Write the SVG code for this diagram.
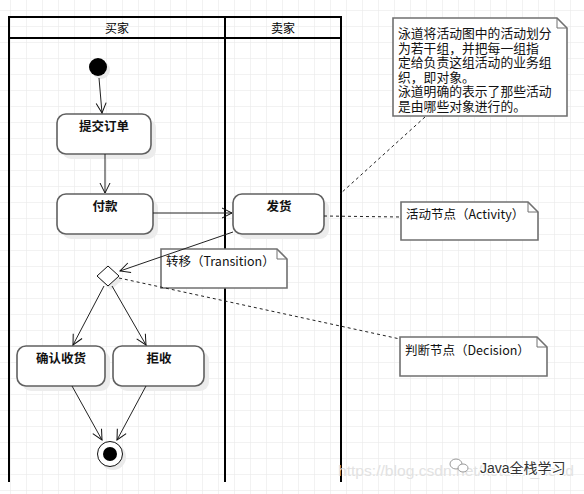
<svg xmlns="http://www.w3.org/2000/svg" width="584" height="494" viewBox="0 0 584 494">
<defs>
<pattern id="grid" x="10" y="10" width="16" height="16" patternUnits="userSpaceOnUse">
<path d="M0 0H16M0 0V16" fill="none" stroke="#e6e6e6" stroke-width="1"/>
</pattern>
<marker id="arr" markerWidth="12" markerHeight="12" refX="11" refY="6" orient="auto" markerUnits="userSpaceOnUse">
<path d="M1 1L11 6L1 11" fill="none" stroke="#111" stroke-width="1"/>
</marker>
</defs>
<style>
.lane{fill:none;stroke:#000;stroke-width:2}
.hdr{font-family:"Noto Sans CJK SC",sans-serif;font-size:12px;fill:#000;text-anchor:middle}
.box{fill:#fff;stroke:#606060;stroke-width:1.6}
.sh{fill:#ececec}
.lbl{font-family:"Noto Sans CJK SC",sans-serif;font-size:12.5px;font-weight:bold;fill:#111;text-anchor:middle}
.note{fill:#fff;stroke:#707070;stroke-width:1.6}
.ntx{font-family:"Noto Sans CJK SC","Liberation Sans",sans-serif;font-size:12.5px;fill:#111}
.big{font-size:12.8px}
.edge{fill:none;stroke:#222;stroke-width:1}
.dash{fill:none;stroke:#222;stroke-width:1;stroke-dasharray:3,3}
</style>
<rect width="584" height="494" fill="#fff"/>
<rect width="584" height="494" fill="url(#grid)"/>

<g id="swimlanes">
<path class="lane" d="M9 482V17H341V482M9 38H341M225 17V482"/>
<text class="hdr" x="117" y="33">买家</text>
<text class="hdr" x="283" y="33">卖家</text>
</g>

<g id="start">
<circle cx="101" cy="70" r="9" fill="#eaeaea"/>
<circle cx="98" cy="67" r="9" fill="#000"/>
</g>

<g id="submit">
<rect class="sh" x="62" y="119" width="94" height="40" rx="9"/>
<rect class="box" x="57" y="114" width="94" height="40" rx="9"/>
<text class="lbl" x="104" y="131">提交订单</text>
</g>

<g id="pay">
<rect class="sh" x="62" y="199" width="96" height="40" rx="9"/>
<rect class="box" x="57" y="194" width="96" height="40" rx="9"/>
<text class="lbl" x="105" y="211">付款</text>
</g>

<g id="ship">
<rect class="sh" x="238" y="199" width="91" height="40" rx="9"/>
<rect class="box" x="233" y="194" width="91" height="40" rx="9"/>
<text class="lbl" x="279" y="211">发货</text>
</g>

<g id="decision">
<path d="M100 280L111 270L122 280L111 290Z" fill="#eaeaea"/>
<path d="M97 276L108 266L119 276L108 286Z" fill="#fff" stroke="#111" stroke-width="1"/>
</g>

<g id="confirm">
<rect class="sh" x="22" y="351" width="88" height="40" rx="9"/>
<rect class="box" x="17" y="346" width="88" height="40" rx="9"/>
<text class="lbl" x="61" y="363">确认收货</text>
</g>

<g id="reject">
<rect class="sh" x="118" y="351" width="91" height="40" rx="9"/>
<rect class="box" x="113" y="346" width="91" height="40" rx="9"/>
<text class="lbl" x="159" y="363">拒收</text>
</g>

<g id="end">
<circle cx="113" cy="457" r="13" fill="#eaeaea"/>
<circle cx="110" cy="454" r="12.5" fill="#fff" stroke="#111" stroke-width="1"/>
<circle cx="110" cy="454" r="7" fill="#000"/>
</g>

<g id="note-swimlane">
<path class="note" d="M393 18H557L567 28V116H393Z"/>
<path d="M557 18V28H567" fill="none" stroke="#707070" stroke-width="1"/>
<text class="ntx big"><tspan x="398" y="38">泳道将活动图中的活动划分</tspan><tspan x="398" y="52.6">为若干组，并把每一组指</tspan><tspan x="398" y="67.2">定给负责这组活动的业务组</tspan><tspan x="398" y="81.8">织，即对象。</tspan><tspan x="398" y="96.4">泳道明确的表示了那些活动</tspan><tspan x="398" y="111">是由哪些对象进行的。</tspan></text>
</g>

<g id="note-activity">
<path class="note" d="M401 202H528L538 212V240H401Z"/>
<path d="M528 202V212H538" fill="none" stroke="#707070" stroke-width="1"/>
<text class="ntx" x="406" y="219">活动节点（Activity）</text>
</g>

<g id="note-transition">
<path class="note" d="M161 249H277L287 259V288H161Z"/>
<path d="M277 249V259H287" fill="none" stroke="#707070" stroke-width="1"/>
<text class="ntx" x="166" y="266">转移（Transition）</text>
</g>

<g id="note-decision">
<path class="note" d="M400 337H537L547 347V376H400Z"/>
<path d="M537 337V347H547" fill="none" stroke="#707070" stroke-width="1"/>
<text class="ntx" x="405" y="355">判断节点（Decision）</text>
</g>

<g id="connectors">
<path class="edge" d="M99 78L102 113" marker-end="url(#arr)"/>
<path class="edge" d="M105 154V193" marker-end="url(#arr)"/>
<path class="edge" d="M153 213H232" stroke-width="1.5" marker-end="url(#arr)"/>
<path class="edge" d="M233 232L120 271" marker-end="url(#arr)"/>
<path class="edge" d="M104 286L73 345" marker-end="url(#arr)"/>
<path class="edge" d="M112 286L146 345" marker-end="url(#arr)"/>
<path class="edge" d="M72 386L102 440" marker-end="url(#arr)"/>
<path class="edge" d="M146 386L117 440" marker-end="url(#arr)"/>
<path class="dash" d="M324 216L401 217"/>
<path class="dash" d="M119 278L400 339"/>
<path class="dash" d="M425 117L340 194"/>
</g>

<g id="watermark">
<text x="338" y="476" font-family="Liberation Sans,sans-serif" font-size="15" fill="#e2e2e2" textLength="236" lengthAdjust="spacingAndGlyphs">https://blog.csdn.net/ketuilin_head</text>
<ellipse cx="456" cy="464" rx="6" ry="5" fill="#fff" stroke="#999" stroke-width="1"/>
<ellipse cx="463" cy="468" rx="5" ry="4" fill="#fff" stroke="#999" stroke-width="1"/>
<text x="480" y="473" font-family="Liberation Sans,'Noto Sans CJK SC',sans-serif" font-size="14" fill="#333" stroke="#fff" stroke-width="2.5" paint-order="stroke">Java全栈学习</text>
</g>
</svg>
